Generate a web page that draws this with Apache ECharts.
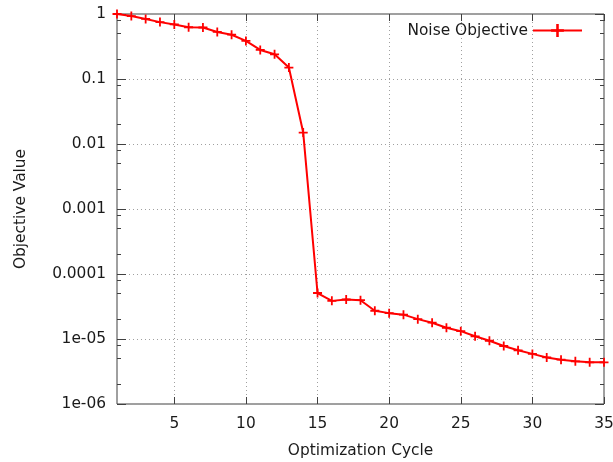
<!DOCTYPE html>
<html><head><meta charset="utf-8">
<script src="https://cdn.jsdelivr.net/npm/echarts@6/dist/echarts.min.js"></script>
<style>html,body{margin:0;padding:0;background:#fff}#c{width:613px;height:462px}</style>
</head><body><div id="c"></div>
<script>
const cycles = [1,2,3,4,5,6,7,8,9,10,11,12,13,14,15,16,17,18,19,20,21,22,23,24,25,26,27,28,29,30,31,32,33,34,35];
const noiseObjective = [1.0, 0.93, 0.84, 0.75, 0.69, 0.625, 0.62, 0.53, 0.48, 0.385, 0.28, 0.24, 0.15, 0.015,
  5.1e-5, 3.86e-5, 4.05e-5, 3.95e-5, 2.72e-5, 2.5e-5, 2.37e-5, 2.02e-5, 1.78e-5, 1.49e-5, 1.32e-5, 1.10e-5,
  9.4e-6, 7.8e-6, 6.7e-6, 5.9e-6, 5.2e-6, 4.8e-6, 4.54e-6, 4.38e-6, 4.38e-6];
const xTickValues = [5,10,15,20,25,30,35];
const yTickLabels = ['1e-06','1e-05','0.0001','0.001','0.01','0.1','1'];
const yMinorValues = [2e-6,5e-6,8e-6,2e-5,5e-5,8e-5,2e-4,5e-4,8e-4,0.002,0.005,0.008,0.02,0.05,0.08,0.2,0.5,0.8];

const FONT = '"DejaVu Sans", sans-serif';
const FS = 15.4;
const TXT = '#1a1a1a';
const chart = echarts.init(document.getElementById('c'));
const plusPath = 'path://M4,0H6V4H10V6H6V10H4V6H0V4H4Z';
const gridLine = {show: true, lineStyle: {color: '#a0a0a0', width: 1, type: [1, 3]}};
function yLabel(v) {
  const e = Math.round(Math.log10(v));
  return yTickLabels[e + 6];
}
const baseY = {
  type: 'log', logBase: 10, min: 1e-6, max: 1, interval: 1,
  axisLine: {show: false}
};
chart.setOption({
  animation: false,
  backgroundColor: '#fff',
  grid: {left: 117, right: 9, top: 14, bottom: 58, show: true, borderColor: '#404040', borderWidth: 1,
    outerBoundsMode: 'none', containLabel: false},
  legend: {
    top: 23, right: 30, padding: 0, align: 'right', itemWidth: 49, itemHeight: 16, itemGap: 8,
    textStyle: {fontFamily: FONT, fontSize: FS, color: TXT},
    data: ['Noise Objective']
  },
  xAxis: [{
    type: 'value', min: 1, max: 35, position: 'bottom',
    name: 'Optimization Cycle', nameLocation: 'middle', nameGap: 39,
    nameTextStyle: {fontFamily: FONT, fontSize: FS, color: TXT},
    axisLine: {show: false},
    axisTick: {show: true, inside: true, length: 7, customValues: xTickValues, lineStyle: {color: '#404040'}},
    axisLabel: {customValues: xTickValues, fontFamily: FONT, fontSize: FS, color: TXT, margin: 12},
    splitLine: gridLine
  }, {
    type: 'value', min: 1, max: 35, position: 'top',
    axisLine: {show: false},
    axisTick: {show: true, inside: true, length: 7, customValues: xTickValues, lineStyle: {color: '#404040'}},
    axisLabel: {show: false},
    splitLine: {show: false}
  }],
  yAxis: [Object.assign({}, baseY, {
    position: 'left',
    name: 'Objective Value', nameLocation: 'middle', nameGap: 89,
    nameTextStyle: {fontFamily: FONT, fontSize: FS, color: TXT},
    axisTick: {show: true, inside: true, length: 9, lineStyle: {color: '#404040'}},
    axisLabel: {formatter: yLabel, fontFamily: FONT, fontSize: FS, color: TXT, margin: 11},
    splitLine: gridLine
  }), Object.assign({}, baseY, {
    position: 'right',
    axisTick: {show: true, inside: true, length: 9, lineStyle: {color: '#404040'}},
    axisLabel: {show: false}, splitLine: {show: false}
  }), Object.assign({}, baseY, {
    position: 'left',
    axisTick: {show: true, inside: true, length: 4, customValues: yMinorValues, lineStyle: {color: '#404040'}},
    axisLabel: {show: false}, splitLine: {show: false}
  }), Object.assign({}, baseY, {
    position: 'right',
    axisTick: {show: true, inside: true, length: 4, customValues: yMinorValues, lineStyle: {color: '#404040'}},
    axisLabel: {show: false}, splitLine: {show: false}
  })],
  series: [{
    name: 'Noise Objective', type: 'line',
    data: cycles.map((c, i) => [c, noiseObjective[i]]),
    symbol: plusPath, symbolSize: 9,
    lineStyle: {color: '#ff0000', width: 2},
    itemStyle: {color: '#ff0000'}
  }]
});
</script></body></html>
